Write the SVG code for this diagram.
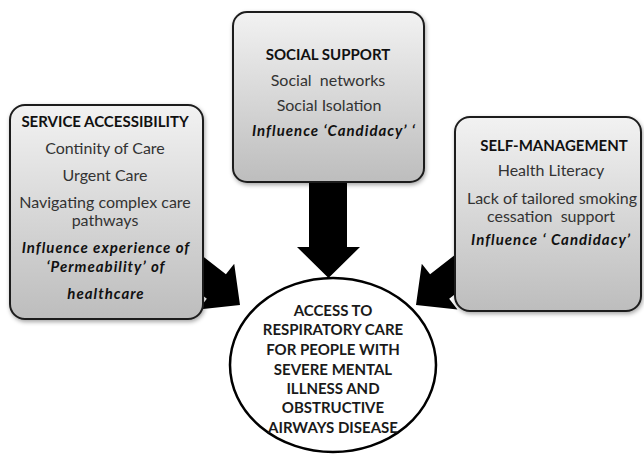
<svg xmlns="http://www.w3.org/2000/svg" width="644" height="454" viewBox="0 0 644 454">
<defs>
<linearGradient id="boxGrad" x1="0" y1="0" x2="0" y2="1">
<stop offset="0" stop-color="#f2f2f2"/>
<stop offset="1" stop-color="#bdbdbd"/>
</linearGradient>
<filter id="shadow" x="-10%" y="-10%" width="125%" height="125%">
<feDropShadow dx="1" dy="2" stdDeviation="2" flood-color="#000" flood-opacity="0.35"/>
</filter>
</defs>
<style>
.box{fill:url(#boxGrad);stroke:#1e1e1e;stroke-width:2;filter:url(#shadow)}
.arrow{fill:#000;stroke:none}
.t{font-family:Lato,"Liberation Sans",sans-serif;font-size:16px;text-anchor:middle;fill:#333333}
.h{font-size:15px;font-weight:bold;fill:#111}
.bi{font-size:15px;font-weight:bold;font-style:italic;fill:#111;letter-spacing:1px}
.c{font-family:Lato,"Liberation Sans",sans-serif;font-size:15px;font-weight:bold;text-anchor:middle;fill:#1a1a1a}
</style>
<rect width="644" height="454" fill="#ffffff"/>
<g id="connectors">
<polygon class="arrow" points="0,0 -30,-29 -30,-15.5 -110,-15.5 -110,15.5 -30,15.5 -30,29" transform="translate(240,305) rotate(38)"/>
<polygon class="arrow" points="0,0 -30,-29 -30,-15.5 -110,-15.5 -110,15.5 -30,15.5 -30,29" transform="translate(416,305) rotate(142)"/>
<polygon class="arrow" points="309,175 347,175 347,247 360,247 328.5,278 297,247 309,247"/>
</g>
<g id="service-accessibility">
<rect class="box" x="10" y="105" width="193" height="214" rx="15"/>
<text class="t h" x="105" y="127">SERVICE ACCESSIBILITY</text>
<text class="t" x="105" y="154">Continity of Care</text>
<text class="t" x="105" y="181">Urgent Care</text>
<text class="t" x="105" y="208">Navigating complex care</text>
<text class="t" x="105" y="226">pathways</text>
<text class="t bi" x="106" y="253">Influence experience of</text>
<text class="t bi" x="106" y="272">‘Permeability’ of</text>
<text class="t bi" x="106" y="299">healthcare</text>
</g>
<g id="social-support">
<rect class="box" x="233" y="12" width="191" height="170" rx="14"/>
<text class="t h" x="328" y="60">SOCIAL SUPPORT</text>
<text class="t" x="328" y="86" xml:space="preserve">Social  networks</text>
<text class="t" x="329" y="111">Social Isolation</text>
<text class="t bi" x="334" y="136">Influence ‘Candidacy’ ‘</text>
</g>
<g id="self-management">
<rect class="box" x="455" y="117" width="186" height="194" rx="15"/>
<text class="t h" x="554" y="151">SELF-MANAGEMENT</text>
<text class="t" x="551" y="176">Health Literacy</text>
<text class="t" x="552" y="204">Lack of tailored smoking</text>
<text class="t" x="551" y="222" xml:space="preserve">cessation  support</text>
<text class="t bi" x="551" y="245">Influence ‘ Candidacy’</text>
</g>
<g id="access">
<ellipse cx="333" cy="365" rx="103" ry="87" fill="#ffffff" stroke="#000" stroke-width="2.5"/>
<text class="c" x="333" y="316">ACCESS TO</text>
<text class="c" x="333" y="335">RESPIRATORY CARE</text>
<text class="c" x="333" y="355">FOR PEOPLE WITH</text>
<text class="c" x="333" y="375">SEVERE MENTAL</text>
<text class="c" x="333" y="394">ILLNESS AND</text>
<text class="c" x="333" y="413">OBSTRUCTIVE</text>
<text class="c" x="333" y="433">AIRWAYS DISEASE</text>
</g>
</svg>
